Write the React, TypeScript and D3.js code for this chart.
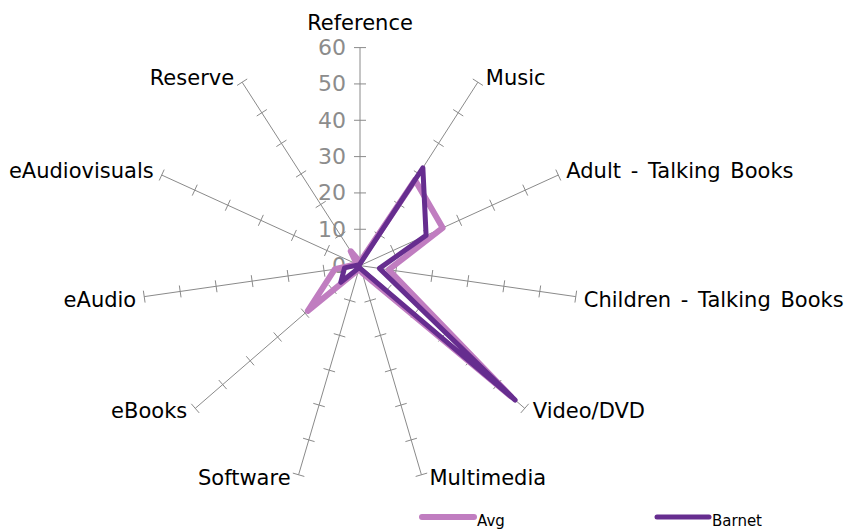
import React from "react";
import * as d3 from "d3";

const categories = [
  "Reference",
  "Music",
  "Adult - Talking Books",
  "Children - Talking Books",
  "Video/DVD",
  "Multimedia",
  "Software",
  "eBooks",
  "eAudio",
  "eAudiovisuals",
  "Reserve",
];
const avgValues = [1, 28, 25, 8, 55, 2, 1, 19, 7, 1, 4.7];
const barnetValues = [0.5, 32, 20, 5.4, 56.5, 1, 0.5, 7, 4.3, 0.5, 0.3];
const tickValues = [0, 10, 20, 30, 40, 50, 60];
const seriesNames = ["Avg", "Barnet"];
const seriesColors = ["#C07DC0", "#662D8F"];
const seriesWidths = [6, 5];

const W = 847;
const H = 529;
const cx = 360;
const cy = 265.6;
const R = 218;

export default function App() {
  const n = categories.length;
  const angle = d3
    .scaleLinear()
    .domain([0, n])
    .range([0, 2 * Math.PI]);
  const r = d3.scaleLinear().domain([0, 60]).range([0, R]);
  const pt = (i: number, v: number): [number, number] => {
    const a = angle(i);
    return [cx + r(v) * Math.sin(a), cy - r(v) * Math.cos(a)];
  };
  const line = d3
    .line<[number, number]>()
    .x((d) => d[0])
    .y((d) => d[1])
    .curve(d3.curveLinearClosed);
  const series = [avgValues, barnetValues];
  const font = "DejaVu Sans, Verdana, sans-serif";

  return (
    <svg
      width={W}
      height={H}
      style={{ position: "absolute", left: 0, top: 0, background: "#fff" }}
      fontFamily={font}
    >
      {categories.map((c, i) => {
        const a = angle(i);
        const [ex, ey] = pt(i, 60);
        const ux = Math.sin(a);
        const uy = -Math.cos(a);
        const px = -uy;
        const py = ux;
        return (
          <g key={c}>
            <line x1={cx} y1={cy} x2={ex} y2={ey} stroke="#8a8a8a" strokeWidth={1} />
            {tickValues.slice(1).map((t) => {
              const [tx, ty] = pt(i, t);
              return (
                <line
                  key={t}
                  x1={tx - px * 6}
                  y1={ty - py * 6}
                  x2={tx + px * 6}
                  y2={ty + py * 6}
                  stroke="#8a8a8a"
                  strokeWidth={1}
                />
              );
            })}
          </g>
        );
      })}
      {tickValues.map((t) => {
        const [, ty] = pt(0, t);
        return (
          <text
            key={t}
            x={cx - 14}
            y={ty}
            textAnchor="end"
            dominantBaseline="central"
            fontSize={22}
            fill="#8c8c8c"
          >
            {t}
          </text>
        );
      })}
      {series.map((vals, s) => (
        <path
          key={s}
          d={line(vals.map((v, i) => pt(i, v))) || ""}
          fill="none"
          stroke={seriesColors[s]}
          strokeWidth={seriesWidths[s]}
          strokeLinejoin="round"
          strokeLinecap="round"
        />
      ))}
      {categories.map((c, i) => {
        const a = angle(i);
        const [ex, ey] = pt(i, 60);
        const s = Math.sin(a);
        let anchor = "middle";
        let x = ex;
        let y = ey;
        if (i === 0) {
          y = ey - 25;
        } else if (s > 0) {
          anchor = "start";
          x = ex + 8;
          y = ey + (Math.cos(a) > 0 ? -4 : 3);
        } else {
          anchor = "end";
          x = ex - 8;
          y = ey + (Math.cos(a) > 0 ? -4 : 3);
        }
        return (
          <text
            key={c}
            x={x}
            y={y}
            textAnchor={anchor}
            dominantBaseline="central"
            fontSize={21}
            wordSpacing={3}
            fill="#000"
          >
            {c}
          </text>
        );
      })}
      {seriesNames.map((nm, s) => {
        const lx = 422 + s * 235;
        const ly = 517;
        return (
          <g key={nm}>
            <line
              x1={lx}
              y1={ly}
              x2={lx + 52}
              y2={ly}
              stroke={seriesColors[s]}
              strokeWidth={seriesWidths[s]}
              strokeLinecap="round"
            />
            <text x={lx + 55} y={ly + 4} fontSize={15} fill="#000" dominantBaseline="central">
              {nm}
            </text>
          </g>
        );
      })}
    </svg>
  );
}
